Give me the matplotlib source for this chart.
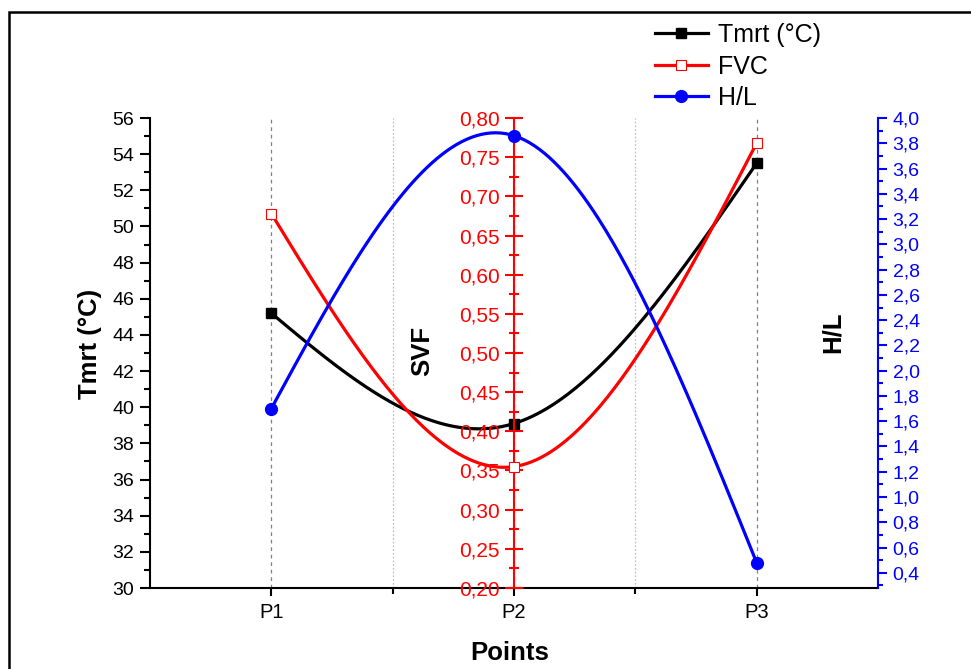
import numpy as np
import matplotlib
matplotlib.use("Agg")
import matplotlib.pyplot as plt
from matplotlib.ticker import MultipleLocator, FuncFormatter, FixedLocator
from matplotlib.patches import Rectangle

plt.rcParams['font.family'] = ['Liberation Sans', 'DejaVu Sans']

# data
points = ['P1', 'P2', 'P3']
tmrt = [45.2, 39.1, 53.5]      # Tmrt (°C), left axis
fvc = [0.678, 0.355, 0.768]    # FVC, drawn on the SVF axis
hl = [1.70, 3.86, 0.48]        # H/L, right axis


def natural_spline(x, y, n=200):
    """natural cubic spline through the points (like Origin's spline line)"""
    x = np.asarray(x, float)
    y = np.asarray(y, float)
    m = len(x)
    h = np.diff(x)
    A = np.zeros((m, m))
    r = np.zeros(m)
    A[0, 0] = A[-1, -1] = 1
    for i in range(1, m - 1):
        A[i, i - 1] = h[i - 1]
        A[i, i] = 2 * (h[i - 1] + h[i])
        A[i, i + 1] = h[i]
        r[i] = 6 * ((y[i + 1] - y[i]) / h[i] - (y[i] - y[i - 1]) / h[i - 1])
    M = np.linalg.solve(A, r)
    xs = np.linspace(x[0], x[-1], n)
    idx = np.clip(np.searchsorted(x, xs) - 1, 0, m - 2)
    x0, x1 = x[idx], x[idx + 1]
    hh = x1 - x0
    a = (x1 - xs) / hh
    b = (xs - x0) / hh
    ys = (a * y[idx] + b * y[idx + 1]
          + ((a ** 3 - a) * M[idx] + (b ** 3 - b) * M[idx + 1]) * hh ** 2 / 6)
    return xs, ys


def comma(fmt):
    return FuncFormatter(lambda v, p: format(v, fmt).replace('.', ','))


xpos = np.arange(1, len(points) + 1)

fig = plt.figure(figsize=(9.71, 6.69), dpi=100)
ax = fig.add_axes([150 / 971, 1 - 588 / 669, 728 / 971, 470 / 669])
ax2 = ax.twinx()
ax3 = ax.twinx()

lw = 2.3
lab_fs = 18.5
# Tmrt
xs, ys = natural_spline(xpos, tmrt)
ax.plot(xs, ys, color='black', lw=lw, zorder=3)
ax.plot(xpos, tmrt, ls='none', marker='s', ms=7, color='black', zorder=4)
# FVC on SVF axis
xs, ys = natural_spline(xpos, fvc)
ax2.plot(xs, ys, color='red', lw=lw, zorder=3)
ax2.plot(xpos, fvc, ls='none', marker='s', ms=7, mfc='white', mec='red',
         mew=0.8, zorder=4)
# H/L
xs, ys = natural_spline(xpos, hl)
ax3.plot(xs, ys, color='blue', lw=lw, zorder=3)
ax3.plot(xpos, hl, ls='none', marker='o', ms=8.5, color='blue', zorder=4)

# x axis
ax.set_xlim(0.5, 3.5)
ax.set_xticks(xpos)
ax.set_xticklabels(points)
ax.xaxis.set_minor_locator(FixedLocator(xpos[:-1] + 0.5))
ax.tick_params(axis='x', which='major', direction='out', length=6, width=1.5,
               labelsize=14.5, pad=5)
ax.tick_params(axis='x', which='minor', direction='out', length=4, width=1.5)
ax.grid(axis='x', which='major', color='#808080', ls=(0, (3, 3)), lw=0.9)
ax.grid(axis='x', which='minor', color='#c0c0c0', ls=(0, (1.5, 1.5)), lw=0.9)
ax.set_xlabel('Points', fontsize=lab_fs, fontweight='bold')
ax.xaxis.set_label_coords(0.4945, -0.112)

# left axis
ax.set_ylim(30, 56)
ax.yaxis.set_major_locator(MultipleLocator(2))
ax.yaxis.set_minor_locator(MultipleLocator(1))
ax.tick_params(axis='y', which='major', direction='out', length=7.5, width=1.5,
               labelsize=14, pad=4)
ax.tick_params(axis='y', which='minor', direction='out', length=4, width=1.5)
ax.set_ylabel('Tmrt (°C)', fontsize=lab_fs, fontweight='bold')
ax.yaxis.set_label_coords(-0.066, 0.52)
for s in ['top', 'right']:
    ax.spines[s].set_visible(False)
for s in ['left', 'bottom']:
    ax.spines[s].set_linewidth(1.5)

# SVF axis at P2
ax2.set_ylim(0.20, 0.80)
ax2.spines['left'].set_position(('data', 2))
ax2.spines['left'].set_color('red')
ax2.spines['left'].set_linewidth(1.5)
for s in ['top', 'right', 'bottom']:
    ax2.spines[s].set_visible(False)
ax2.yaxis.set_ticks_position('left')
ax2.yaxis.set_label_position('left')
ax2.yaxis.set_major_locator(MultipleLocator(0.05))
ax2.yaxis.set_minor_locator(MultipleLocator(0.025))
ax2.yaxis.set_major_formatter(comma('.2f'))
ax2.tick_params(axis='y', which='major', direction='inout', length=13,
                width=1.5, colors='red', labelsize=15, pad=4)
ax2.tick_params(axis='y', which='minor', direction='inout', length=7,
                width=1.5, colors='red')
ax2.set_ylabel('SVF', fontsize=lab_fs, fontweight='bold')
ax2.yaxis.set_label_coords(0.391, 0.504)

# H/L axis
ax3.set_ylim(0.28, 4.0)
ax3.spines['right'].set_color('blue')
ax3.spines['right'].set_linewidth(1.5)
for s in ['top', 'left', 'bottom']:
    ax3.spines[s].set_visible(False)
ax3.yaxis.set_major_locator(FixedLocator(np.round(np.arange(0.4, 4.01, 0.2), 1)))
ax3.yaxis.set_minor_locator(FixedLocator(np.round(np.arange(0.3, 4.01, 0.1), 1)))
ax3.yaxis.set_major_formatter(comma('.1f'))
ax3.tick_params(axis='y', which='major', direction='out', length=6.5,
                width=1.5, colors='blue', labelsize=14, pad=4)
ax3.tick_params(axis='y', which='minor', direction='out', length=3.5,
                width=1.5, colors='blue')
ax3.set_ylabel('H/L', fontsize=lab_fs, fontweight='bold')
ax3.yaxis.set_label_coords(0.921, 0.545)

# legend
handles = [
    plt.Line2D([], [], color='black', lw=lw, marker='s', ms=7),
    plt.Line2D([], [], color='red', lw=lw, marker='s', ms=7, mfc='white',
               mec='red', mew=0.8),
    plt.Line2D([], [], color='blue', lw=lw, marker='o', ms=8.5),
]
fig.legend(handles, ['Tmrt (°C)', 'FVC', 'H/L'], loc='upper left',
           bbox_to_anchor=(655 / 971, 1 - 23 / 669), frameon=False,
           fontsize=18, handlelength=2.1, handletextpad=0.4,
           labelspacing=0.3, borderpad=0, borderaxespad=0)

# frame around the figure
fig.patches.append(Rectangle((9 / 971, -0.1), 1.2, 1.1 - 12 / 669,
                             transform=fig.transFigure, fill=False,
                             lw=1.8, ec='black'))

fig.savefig('out.png', dpi=100)
